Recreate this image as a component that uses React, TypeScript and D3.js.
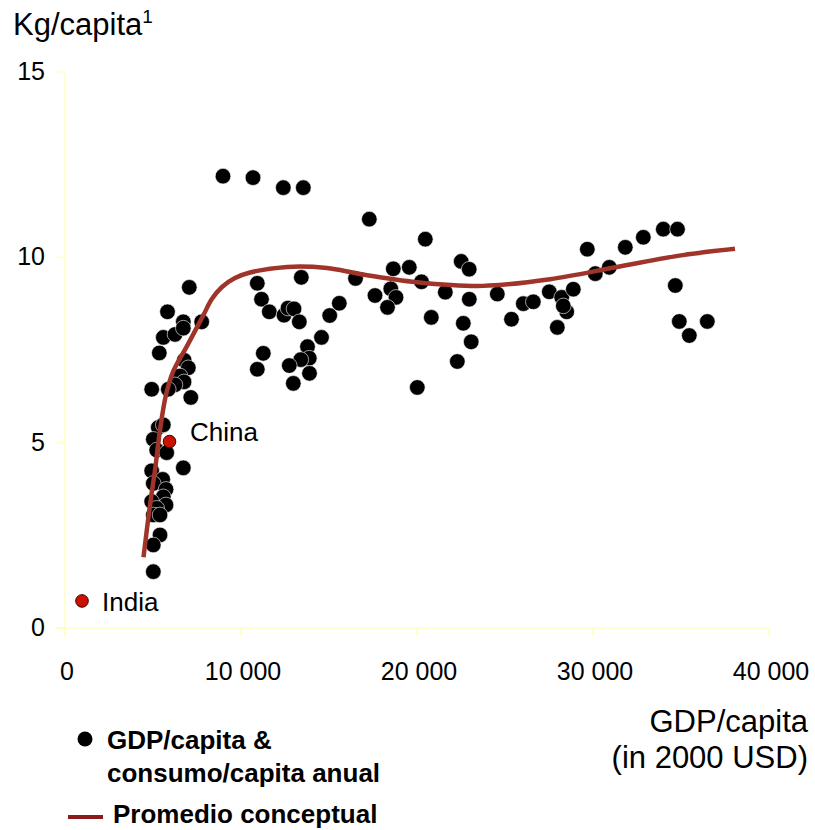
import React from "react";
import * as d3 from "d3";

// GDP/capita (USD 2000) and consumption kg/capita for each country
const gdpValues = [
  8977, 10682, 12403, 13540, 17290, 20472,
  7062, 5824, 6722, 7767, 5585, 6250, 6722, 5358, 6773, 7006, 6534, 6761, 6250, 4926, 5869, 7148,
  5301, 5585, 5017, 5210, 5778, 6722, 4926, 5551, 5017, 5739, 5585, 4926, 5739, 5210, 5017, 5398, 5398, 5017, 5017,
  10926, 11165, 11608, 12443, 12670, 13011, 13313, 13426, 15040, 15585, 14574, 13778, 13881, 13398, 12744, 13892, 12972, 11267, 10926,
  16506, 17614, 18511, 18807, 18324, 18653, 19562, 20256, 20017, 21608, 20812, 22511, 22966, 22972, 22631, 23080, 22290,
  24563, 25369, 26040, 26608, 27517, 28221, 28881, 28506, 28312, 27972, 29676, 30130, 30926, 31835, 32858, 33994, 34801, 34676, 34903, 36494, 35472,
];
const consumoValues = [
  12.19, 12.15, 11.88, 11.88, 11.03, 10.49,
  9.19, 8.53, 8.26, 8.26, 7.84, 7.92, 8.09, 7.42, 7.22, 7.02, 6.8, 6.64, 6.56, 6.44, 6.44, 6.22,
  5.41, 5.48, 5.09, 4.8, 4.73, 4.32, 4.24, 4.01, 3.9, 3.74, 3.54, 3.41, 3.32, 3.23, 3.05, 3.05, 2.51, 2.24, 1.52,
  9.3, 8.87, 8.53, 8.44, 8.63, 8.61, 8.26, 9.46, 8.43, 8.76, 7.84, 7.59, 7.28, 7.24, 7.08, 6.87, 6.6, 7.41, 6.98,
  9.43, 8.97, 9.15, 8.92, 8.65, 9.69, 9.73, 9.34, 6.49, 9.06, 8.38, 9.89, 9.68, 8.87, 8.22, 7.72, 7.19,
  9.01, 8.33, 8.75, 8.8, 9.07, 8.92, 9.14, 8.53, 8.69, 8.11, 10.22, 9.56, 9.73, 10.27, 10.54, 10.76, 10.76, 9.24, 8.27, 8.27, 7.89,
];

const highlightNames = ["China", "India"];
const highlightGdp = [5937, 966];
const highlightConsumo = [5.03, 0.73];

// Conceptual average curve
const trendGdp = [4460, 4830, 5114, 5398, 5739, 6136, 6915, 7841, 8352, 8920, 9659, 10511, 12614, 14886, 16761, 20000, 23750, 27557, 31364, 35114, 38068];
const trendConsumo = [1.91, 3.32, 4.26, 5.34, 6.29, 6.91, 7.59, 8.42, 8.88, 9.2, 9.44, 9.59, 9.74, 9.71, 9.55, 9.33, 9.23, 9.41, 9.74, 10.06, 10.23];

const xTicks = [0, 10000, 20000, 30000, 40000];
const yTicks = [0, 5, 10, 15];

const FONT = "'Liberation Sans', Arial, sans-serif";

export default function App() {
  const x = d3.scaleLinear().domain([0, 40000]).range([65, 769]);
  const y = d3.scaleLinear().domain([0, 15]).range([628, 72]);
  const axisColor = "#FFFFC0";
  const fmt = (v: number) => (v === 0 ? "0" : d3.format(",")(v).replace(/,/g, " "));

  const trendPts: [number, number][] = trendGdp.map((g, i) => [g, trendConsumo[i]]);
  const line = d3
    .line<[number, number]>()
    .x((d) => x(d[0]))
    .y((d) => y(d[1]))
    .curve(d3.curveCatmullRom.alpha(0.5));

  return (
    <svg
      width={815}
      height={830}
      style={{ position: "absolute", left: 0, top: 0, background: "#fff" }}
      fontFamily={FONT}
    >
      {/* Y axis title */}
      <text x={13} y={35} fontSize={31} fill="#000">
        Kg/capita
        <tspan fontSize={19} dy={-12}>1</tspan>
      </text>

      {/* Axes */}
      <line x1={x(0)} x2={x(0)} y1={y(15)} y2={y(0) + 9} stroke={axisColor} strokeWidth={1.5} />
      <line x1={x(0) - 9} x2={x(40000)} y1={y(0)} y2={y(0)} stroke={axisColor} strokeWidth={1.5} />
      {yTicks.map((t) => (
        <g key={"y" + t}>
          <line x1={x(0) - 8} x2={x(0)} y1={y(t)} y2={y(t)} stroke={axisColor} strokeWidth={1.5} />
          <text x={45} y={y(t) + 8} textAnchor="end" fontSize={25} fill="#000">
            {t}
          </text>
        </g>
      ))}
      {xTicks.map((t) => (
        <g key={"x" + t}>
          <line x1={x(t)} x2={x(t)} y1={y(0)} y2={y(0) + 9} stroke={axisColor} strokeWidth={1.5} />
          <text x={x(t) + 2} y={680} textAnchor="middle" fontSize={25} fill="#000">
            {fmt(t)}
          </text>
        </g>
      ))}

      {/* X axis title */}
      <text x={808} y={732} textAnchor="end" fontSize={31} fill="#000">
        GDP/capita
      </text>
      <text x={808} y={768} textAnchor="end" fontSize={31} fill="#000">
        (in 2000 USD)
      </text>

      {/* Dots */}
      {gdpValues.map((g, i) => (
        <circle key={"d" + i} cx={x(g)} cy={y(consumoValues[i])} r={7.8} fill="#000" stroke="#fff" strokeWidth={0.6} />
      ))}

      {/* Trend */}
      <path d={line(trendPts) || ""} fill="none" stroke="#A0342B" strokeWidth={4.5} />

      {/* Highlights */}
      {highlightNames.map((n, i) => (
        <g key={n}>
          <circle cx={x(highlightGdp[i])} cy={y(highlightConsumo[i])} r={6.3} fill="#CC1100" stroke="#3a0000" strokeWidth={1} />
        </g>
      ))}
      <text x={190} y={y(highlightConsumo[0]) - 1} fontSize={26} fill="#000">
        {highlightNames[0]}
      </text>
      <text x={102} y={y(highlightConsumo[1]) + 10} fontSize={26} fill="#000">
        {highlightNames[1]}
      </text>

      {/* Legend */}
      <circle cx={85} cy={739} r={7.5} fill="#000" />
      <text x={107} y={749} fontSize={26} fontWeight="bold" fill="#000">
        GDP/capita &amp;
      </text>
      <text x={107} y={782} fontSize={26} fontWeight="bold" fill="#000">
        consumo/capita anual
      </text>
      <line x1={68} x2={103} y1={817} y2={817} stroke="#8B1A1A" strokeWidth={4} />
      <text x={113} y={823} fontSize={26} fontWeight="bold" fill="#000">
        Promedio conceptual
      </text>
    </svg>
  );
}
